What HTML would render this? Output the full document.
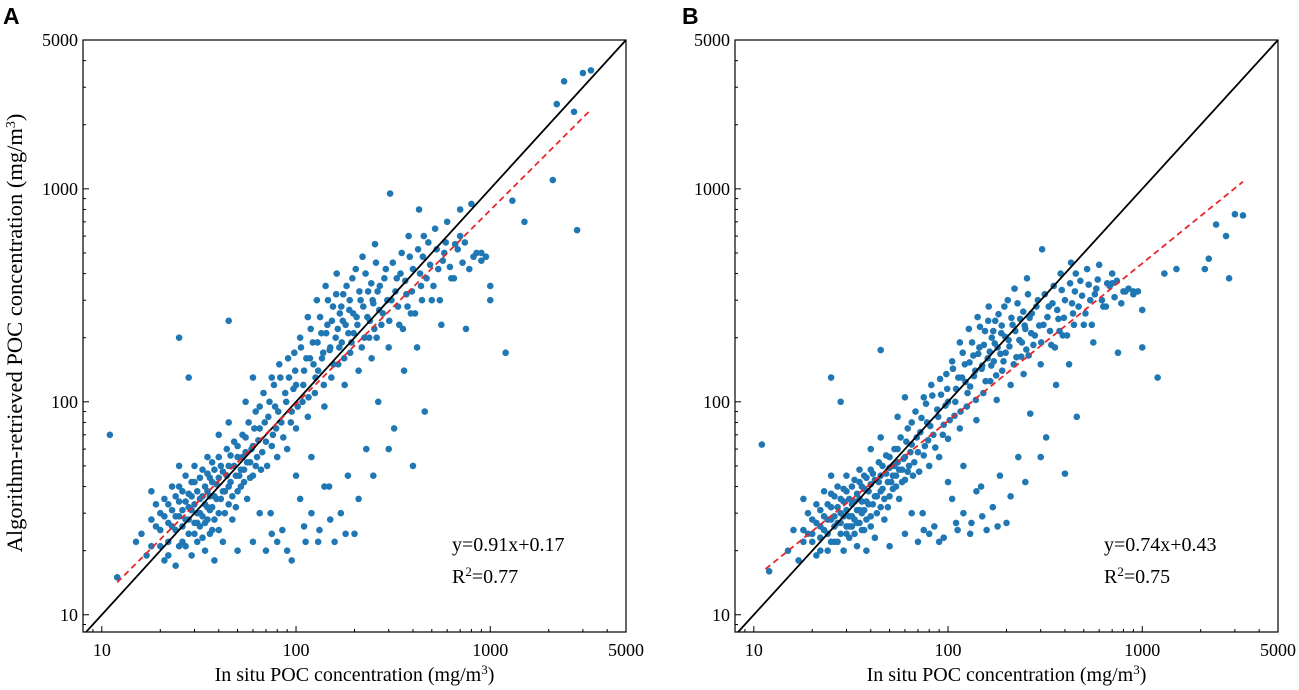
<!DOCTYPE html>
<html><head><meta charset="utf-8">
<style>
html,body{margin:0;padding:0;background:#fff;}
svg{display:block;font-family:"Liberation Serif",serif;}
</style></head>
<body>
<svg id="chart" width="1299" height="690" viewBox="0 0 1299 690" xmlns="http://www.w3.org/2000/svg"></svg>
<script>
// in situ POC (shared x), algorithm-retrieved POC for panel A and panel B
const insitu=[11,12,3300,3000,2400,2700,2200,2100,2800,1500,1300,1200,800,700,1000,900,750,400,25,28,45,
15,16,17,18,18,19,20,20,21,21,22,22,23,23,24,24,25,25,26,26,27,27,28,28,29,29,30,30,31,31,32,32,33,33,34,34,35,35,36,36,37,37,38,38,39,40,40,41,42,42,43,44,45,45,46,47,48,49,50,50,52,53,54,55,56,57,58,60,60,62,63,65,66,68,70,70,72,74,75,76,78,80,80,82,84,85,88,90,92,95,95,98,100,100,105,105,108,110,112,115,115,118,120,122,125,128,130,132,135,138,140,142,145,148,150,152,155,158,160,162,165,168,170,172,175,178,180,185,188,190,195,198,200,205,210,215,220,225,230,235,240,245,250,255,260,265,270,280,290,300,305,310,320,330,340,350,360,370,380,390,400,420,430,440,450,460,480,500,520,540,560,580,600,630,660,700,720,780,850,950,1000,
19,20,21,22,22,23,24,24,25,25,26,26,27,27,28,28,29,29,30,30,31,31,32,32,33,33,34,34,35,35,36,36,37,37,38,38,39,40,40,41,42,43,44,45,46,47,48,49,50,51,52,53,54,55,56,58,59,61,62,64,65,67,69,71,73,75,77,79,81,83,86,89,91,94,97,99,102,106,109,113,116,119,123,126,129,133,136,139,143,146,149,153,156,161,164,167,171,174,177,182,186,189,193,197,203,207,212,218,222,228,233,238,244,248,253,258,263,268,275,285,295,302,315,325,335,345,355,365,375,385,395,410,425,435,445,455,470,490,510,530,550,570,590,620,650,680,740,820,900,60,75,90,110,130,150,180,210,250,300,140,50,65,100,120,35,30,40,45,55,60,25,18];
const retrievedA=[70,15,3600,3500,3200,2300,2500,1100,640,700,880,170,850,800,300,500,220,50,200,130,240,
22,24,19,28,21,33,25,30,18,35,27,22,31,40,25,17,29,34,22,38,28,45,24,32,19,36,27,42,30,22,35,26,48,29,33,20,38,28,44,31,25,52,36,18,41,30,55,35,47,22,38,60,33,50,42,28,65,45,55,38,48,70,42,58,35,80,52,62,45,90,55,75,48,110,65,20,85,30,130,70,95,22,55,150,80,25,110,60,130,18,90,170,75,120,200,35,100,140,22,250,85,160,30,190,110,300,140,25,210,170,95,350,230,40,180,130,280,22,200,400,150,260,30,190,320,120,230,45,270,170,380,210,24,250,140,300,480,200,60,330,240,160,290,550,200,100,350,260,420,180,950,300,75,380,230,500,140,320,600,260,420,180,800,350,480,90,560,300,650,420,230,500,700,380,550,600,450,420,500,480,350,
26,21,29,33,19,26,36,29,21,40,31,26,34,21,37,28,31,42,24,33,38,27,44,30,23,36,40,27,46,32,36,24,42,32,48,28,35,44,25,50,38,30,45,40,56,36,50,32,62,45,40,55,48,68,52,44,60,75,50,66,95,58,80,50,100,62,120,75,90,130,68,100,160,80,115,140,95,180,120,160,105,220,150,130,190,250,160,120,210,300,175,240,150,320,220,180,280,240,160,350,210,300,190,260,420,230,330,180,280,400,250,200,360,300,220,450,330,270,230,380,300,240,450,330,280,400,220,370,280,480,330,260,520,400,300,600,380,440,350,520,300,460,560,430,380,520,560,480,460,22,24,20,26,22,28,24,35,45,60,40,20,30,45,55,55,50,70,80,100,130,50,38];
const retrievedB=[63,16,750,760,680,600,470,420,380,420,400,130,330,360,180,330,170,46,130,100,175,
20,25,18,25,22,30,24,28,19,33,26,23,29,38,24,20,28,32,22,36,27,40,24,30,20,34,26,38,29,23,33,26,43,28,31,21,35,27,40,30,25,45,34,20,38,29,48,33,43,23,36,52,32,45,39,28,56,42,49,36,45,60,40,52,35,68,48,55,43,75,50,63,45,90,58,22,72,30,105,62,80,24,50,120,70,26,92,55,108,23,78,135,67,100,155,35,86,115,25,190,75,130,30,150,95,220,118,27,165,140,82,250,180,40,148,110,215,25,160,280,125,200,32,155,240,102,180,45,210,140,280,170,27,195,120,230,340,162,55,245,190,135,220,380,165,88,260,205,300,150,520,230,68,280,185,350,120,245,400,205,300,150,450,260,330,85,370,230,420,300,190,340,440,280,360,400,310,290,340,330,270,
24,22,27,31,20,25,33,28,22,37,29,26,32,22,35,27,29,39,24,31,35,26,40,29,24,34,37,27,42,31,34,25,39,31,44,28,33,41,26,46,36,30,42,38,50,35,46,32,55,42,39,50,45,60,48,42,54,65,47,58,80,52,68,47,84,56,98,66,77,107,61,85,128,70,96,115,82,143,100,130,90,170,124,110,153,190,132,102,168,225,143,185,125,240,172,148,215,188,133,258,168,228,155,202,300,182,248,150,215,290,195,163,265,228,176,320,248,210,185,280,228,190,320,250,215,290,180,270,215,335,248,205,360,290,230,400,280,315,260,355,230,320,375,300,280,350,370,330,320,24,25,22,27,24,29,26,36,42,55,38,21,30,42,50,48,45,60,68,85,105,45,35];
const xTicks=[10,100,1000,5000];
const yTicks=[10,100,1000,5000];
const fitA={slope:0.91,intercept:0.17,x0:12,x1:3300,label:"y=0.91x+0.17",r2:"=0.77"};
const fitB={slope:0.74,intercept:0.43,x0:11.5,x1:3300,label:"y=0.74x+0.43",r2:"=0.75"};

const NS="http://www.w3.org/2000/svg";
const svg=document.getElementById('chart');
function mk(tag,attrs,parent){const e=document.createElementNS(NS,tag);for(const k in attrs)e.setAttribute(k,attrs[k]);(parent||svg).appendChild(e);return e;}

function panel(left,yvals,fit,letter,letterX,showYTitle,id){
  const top=40,bottom=632,right=left+543;
  const lx0=Math.log10(8),lx1=Math.log10(5000);
  const ly0=Math.log10(8.3),ly1=Math.log10(5000);
  const sx=v=>left+(Math.log10(v)-lx0)/(lx1-lx0)*(right-left);
  const sy=v=>bottom-(Math.log10(v)-ly0)/(ly1-ly0)*(bottom-top);
  const g=mk('g',{});
  
  
  const cpId='clip-'+id;
  const cp=mk('clipPath',{id:cpId},g);mk('rect',{x:left,y:top,width:right-left,height:bottom-top},cp);
  const pg=mk('g',{'clip-path':'url(#'+cpId+')'},g);
  
  
  for(let i=0;i<insitu.length;i++){
    const c=mk('circle',{cx:sx(insitu[i]),cy:sy(yvals[i]),r:3.3,fill:'#1f77b4'},pg);
    
    
  }
  const l1=mk('line',{x1:sx(8),y1:sy(8),x2:sx(5000),y2:sy(5000),stroke:'#000','stroke-width':1.8,'clip-path':'url(#'+cpId+')'},g);
  
  
  const fy=x=>Math.pow(10,fit.slope*Math.log10(x)+fit.intercept);
  const fl=mk('line',{x1:sx(fit.x0),y1:sy(fy(fit.x0)),x2:sx(fit.x1),y2:sy(fy(fit.x1)),stroke:'#e8262a','stroke-width':1.8,'stroke-dasharray':'6,4'},g);
  
  
  const fr=mk('rect',{x:left,y:top,width:right-left,height:bottom-top,fill:'none',stroke:'#000','stroke-width':1.2},g);
  
  
  for(let d=10;d<=1000;d*=10){for(let m=2;m<=9;m++){const v=d*m;if(v>5000)break;
    mk('line',{x1:sx(v),x2:sx(v),y1:bottom,y2:bottom-3,stroke:'#000'},g);
    mk('line',{x1:left,x2:left+3,y1:sy(v),y2:sy(v),stroke:'#000'},g);}}
  mk('line',{x1:sx(9),x2:sx(9),y1:bottom,y2:bottom-3,stroke:'#000'},g);
  mk('line',{x1:left,x2:left+3,y1:sy(9),y2:sy(9),stroke:'#000'},g);
  xTicks.forEach(t=>{
    mk('line',{x1:sx(t),x2:sx(t),y1:bottom,y2:bottom-6,stroke:'#000'},g);
    const tx=mk('text',{x:sx(t),y:bottom+24,'text-anchor':'middle','font-size':18},g);tx.textContent=t;
    
    
  });
  yTicks.forEach(t=>{
    mk('line',{x1:left,x2:left+6,y1:sy(t),y2:sy(t),stroke:'#000'},g);
    const ty=mk('text',{x:left-5,y:sy(t)+6,'text-anchor':'end','font-size':18},g);ty.textContent=t;
    
    
  });
  const xt=mk('text',{x:(left+right)/2,y:681,'text-anchor':'middle','font-size':20},g);
  xt.innerHTML='In situ POC concentration (mg/m<tspan baseline-shift="super" font-size="13">3</tspan>)';
  
  
  if(showYTitle){
    const yt=mk('text',{x:0,y:0,'text-anchor':'middle','font-size':22.5,transform:'translate(22,333) rotate(-90)'},g);
    yt.innerHTML='Algorithm-retrieved POC concentration (mg/m<tspan baseline-shift="super" font-size="14">3</tspan>)';
    
    
  }
  const eq=mk('text',{x:left+369,y:551,'font-size':20},g);eq.textContent=fit.label;
  
  
  const r2=mk('text',{x:left+369,y:583,'font-size':20},g);
  r2.innerHTML='R<tspan baseline-shift="super" font-size="13">2</tspan>'+fit.r2;
  
  
  const pl=mk('text',{x:letterX,y:24,'font-size':23,'font-weight':'bold','font-family':'Liberation Sans, sans-serif'},g);
  pl.textContent=letter;
  
  
}
panel(83,retrievedA,fitA,'A',3,true,'panel-a');
panel(735,retrievedB,fitB,'B',682,false,'panel-b');
</script>
</body></html>
